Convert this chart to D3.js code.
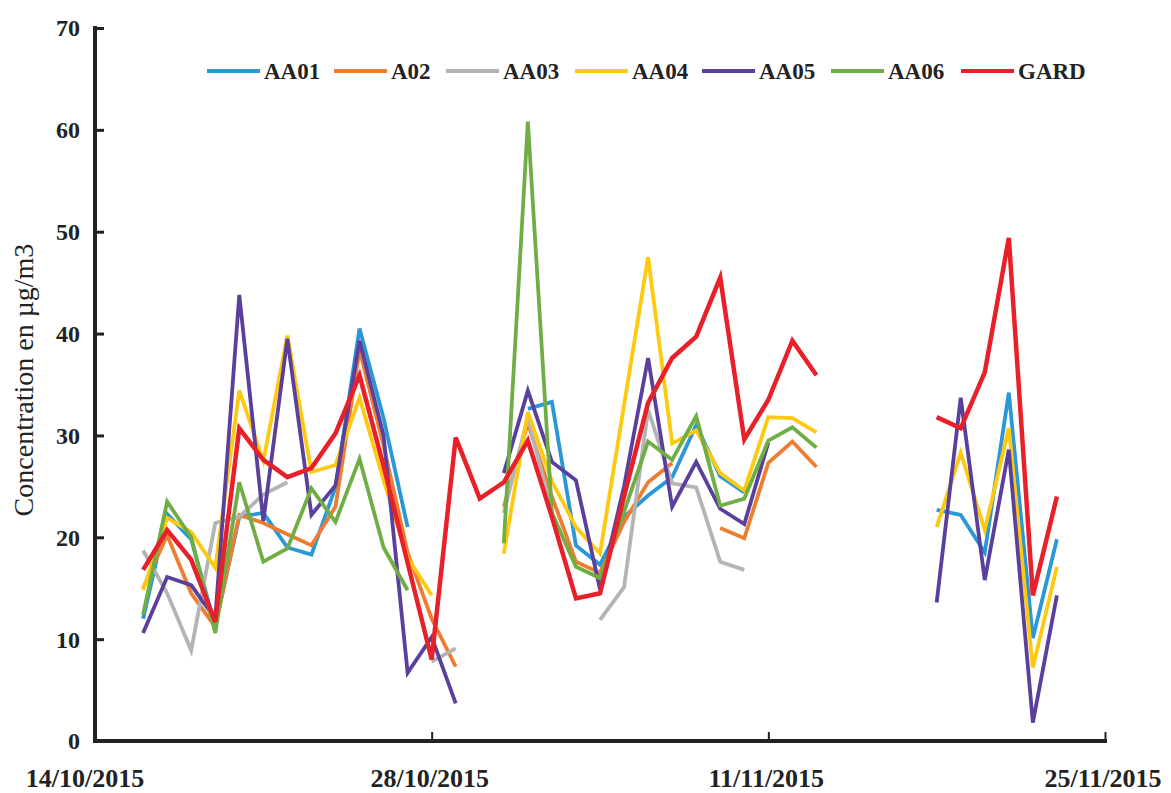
<!DOCTYPE html>
<html>
<head>
<meta charset="utf-8">
<script src="https://cdn.jsdelivr.net/npm/d3@7"></script>
<style>
  body { margin: 0; background: #fff; }
  text { font-family: "Liberation Serif", "Times New Roman", serif; }
</style>
</head>
<body>
<div id="chart"></div>
<script>
  // daily samples from 16/10/2015 to 23/11/2015 (null = no measurement)
  let firstDay = new Date(2015, 9, 16);
  let lastDay = new Date(2015, 10, 24);

  let AA01 = [12, 22.3, 19.8, 11.3, 22, 22.4, 19, 18.3, 24.9, 40.5, 31.7, 21, null, null, null, null, 32.6, 33.3, 19.2, 17.3, 22, 24.1, 25.9, 31, 26, 24.4, null, null, null, null, null, null, null, 22.7, 22.2, 18.5, 34.2, 10.1, 19.8];
  let A02 = [15, 20.2, 14.5, 11.2, 22.2, 21.4, 20.3, 19.2, 23, 38.4, 29, 18.5, 12, 7.3, null, 23, 31.2, 24, 17.6, 16.5, 21.5, 25.4, 27.3, null, 20.9, 19.9, 27.3, 29.4, 26.9, null, null, null, null, null, null, null, null, null, null];
  let AA03 = [18.7, 14.5, 8.9, 21.4, 22, 24.2, 25.4, null, null, null, null, null, 7.8, 9.1, null, 22.4, 31.8, 22.4, null, 11.9, 15.1, 32.5, 25.3, 24.9, 17.6, 16.8, null, null, null, null, null, null, null, null, null, null, null, null, null];
  let AA04 = [14.8, 21.9, 20.5, 17, 34.4, 27.5, 39.8, 26.4, 27.1, 33.7, 25.6, 18, 14.3, null, null, 18.4, 32.3, 25.5, 21, 18.4, 33, 47.5, 29.2, 30.5, 26.3, 24.6, 31.8, 31.7, 30.3, null, null, null, null, 21, 28.3, 20.7, 30.7, 7.2, 17.1];
  let AA05 = [10.6, 16.1, 15.3, 12, 43.8, 21.6, 39.5, 22.2, 25.1, 39.3, 30, 6.7, 10.2, 3.7, null, 26.3, 34.4, 27.4, 25.6, 14.9, 25, 37.6, 23, 27.4, 22.8, 21.3, 29.3, null, null, null, null, null, null, 13.6, 33.7, 15.8, 28.6, 1.8, 14.3];
  let AA06 = [12.4, 23.5, 20, 10.6, 25.4, 17.6, 18.9, 24.8, 21.5, 27.7, 19, 14.8, null, null, null, 19.4, 60.8, 22.4, 17.1, 16, 22.5, 29.4, 27.6, 31.9, 23.1, 23.8, 29.5, 30.8, 28.8, null, null, null, null, null, null, null, null, null, null];
  let GARD = [16.8, 20.7, 17.8, 11.7, 30.7, 27.6, 25.9, 26.8, 30.2, 35.9, 27, 17.5, 8, 29.8, 23.8, 25.4, 29.5, 22, 14, 14.5, 24, 33.2, 37.6, 39.7, 45.5, 29.6, 33.5, 39.3, 35.9, null, null, null, null, 31.8, 30.7, 36.2, 49.4, 14.3, 24];

  let seriesNames = ['AA01', 'A02', 'AA03', 'AA04', 'AA05', 'AA06', 'GARD'];
  let seriesValues = [AA01, A02, AA03, AA04, AA05, AA06, GARD];
  let colors = ['#2a98d8', '#ee7d31', '#b4b4b4', '#ffc910', '#5a3f9c', '#6fae45', '#e8202a'];

  let tickDates = [new Date(2015, 9, 14), new Date(2015, 9, 28), new Date(2015, 10, 11), new Date(2015, 10, 25)];
  let yTicks = [0, 10, 20, 30, 40, 50, 60, 70];

  let days = d3.timeDays(firstDay, lastDay);

  let width = 1171,
    height = 793;

  let svg = d3.select('#chart').append('svg')
    .attr('width', width)
    .attr('height', height);

  let xScale = d3.scaleTime()
    .domain([tickDates[0], tickDates[3]])
    .range([95, 1105]);

  let yScale = d3.scaleLinear()
    .domain([0, 70])
    .range([741, 28]);

  // y axis
  let yAxis = d3.axisRight(yScale)
    .tickValues(yTicks.slice(1))
    .tickSize(9)
    .tickFormat('');

  let gy = svg.append('g')
    .attr('transform', 'translate(95,0)')
    .call(yAxis);
  gy.select('.domain').remove();
  gy.selectAll('.tick line').attr('stroke', '#222').attr('stroke-width', 3);

  svg.append('line')
    .attr('x1', 95).attr('x2', 95)
    .attr('y1', yScale(70) - 2).attr('y2', yScale(0) + 2)
    .attr('stroke', '#222').attr('stroke-width', 4);

  svg.append('g').selectAll('text.ylabel')
    .data(yTicks).enter()
    .append('text')
    .attr('class', 'ylabel')
    .attr('x', 80)
    .attr('y', (d) => yScale(d))
    .attr('dy', '0.35em')
    .attr('text-anchor', 'end')
    .style('font-size', '24px')
    .style('font-weight', 'bold')
    .attr('fill', '#222')
    .text((d) => d);

  svg.append('text')
    .attr('transform', 'translate(33,380) rotate(-90)')
    .attr('text-anchor', 'middle')
    .style('font-size', '28px')
    .attr('fill', '#222')
    .text('Concentration en µg/m3');

  // x axis
  let xAxis = d3.axisTop(xScale)
    .tickValues(tickDates.slice(1))
    .tickSize(9)
    .tickFormat('');

  let gx = svg.append('g')
    .attr('transform', 'translate(0,' + yScale(0) + ')')
    .call(xAxis);
  gx.select('.domain').remove();
  gx.selectAll('.tick line').attr('stroke', '#222').attr('stroke-width', 2);

  svg.append('line')
    .attr('x1', 93).attr('x2', 1107)
    .attr('y1', yScale(0)).attr('y2', yScale(0))
    .attr('stroke', '#222').attr('stroke-width', 4);

  svg.append('g').selectAll('text.xlabel')
    .data(tickDates).enter()
    .append('text')
    .attr('class', 'xlabel')
    .attr('x', (d, i) => xScale(d) + (i === 0 ? -10 : -2))
    .attr('y', 787)
    .attr('text-anchor', 'middle')
    .style('font-size', '26px')
    .style('font-weight', 'bold')
    .attr('fill', '#222')
    .text((d) => d3.timeFormat('%d/%m/%Y')(d));

  // series
  let line = d3.line()
    .defined((d) => d.v !== null)
    .x((d) => xScale(d.t))
    .y((d) => yScale(d.v));

  seriesValues.forEach((vals, k) => {
    let pts = vals.map((v, i) => ({ t: days[i], v: v }));
    svg.append('path')
      .datum(pts)
      .attr('fill', 'none')
      .attr('stroke', colors[k])
      .attr('stroke-width', k === 6 ? 4.5 : 3.8)
      .attr('stroke-linejoin', 'miter')
      .attr('d', line);
  });

  // legend
  let legendX = [207, 334, 446, 575, 702, 831, 961];
  let legend = svg.append('g').selectAll('g.legend')
    .data(seriesNames).enter()
    .append('g')
    .attr('class', 'legend')
    .attr('transform', (d, i) => 'translate(' + legendX[i] + ',71)');

  legend.append('line')
    .attr('x1', 0).attr('x2', 53)
    .attr('y1', 0).attr('y2', 0)
    .attr('stroke', (d, i) => colors[i])
    .attr('stroke-width', 4);

  legend.append('text')
    .attr('x', 57)
    .attr('y', 0)
    .attr('dy', '0.35em')
    .style('font-size', '23px')
    .style('font-weight', 'bold')
    .attr('fill', '#222')
    .text((d) => d);
</script>
</body>
</html>
